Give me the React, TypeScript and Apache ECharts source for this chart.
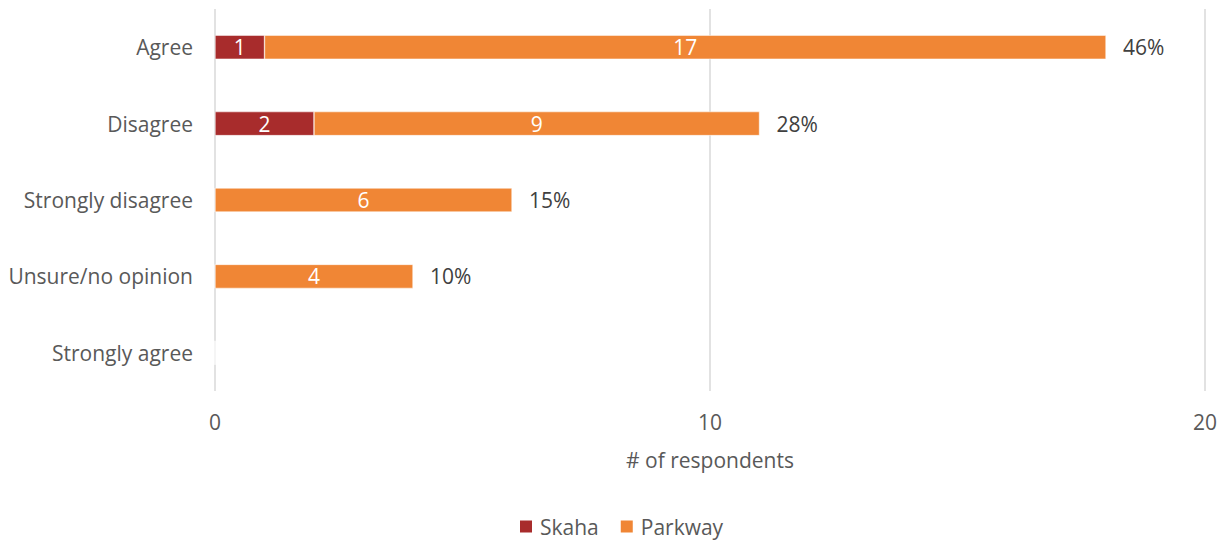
import React, { useEffect, useRef } from "react";
import * as echarts from "echarts";

const categories = ["Agree", "Disagree", "Strongly disagree", "Unsure/no opinion", "Strongly agree"];
const skaha = [1, 2, 0, 0, 0];
const parkway = [17, 9, 6, 4, 0];
const percentLabels = ["46%", "28%", "15%", "10%", ""];
const xTicks = [0, 10, 20];

export default function App() {
  const ref = useRef<HTMLDivElement>(null);
  useEffect(() => {
    document.body.style.margin = "0";
    if (!ref.current) return;
    const chart = echarts.init(ref.current, undefined, { renderer: "svg" });
    const font = "'Open Sans', sans-serif";
    const fs = 21;
    chart.setOption({
      animation: false,
      textStyle: { fontFamily: font },
      grid: { left: 215, right: 24, top: 9, bottom: 152 },
      legend: {
        data: ["Skaha", "Parkway"],
        bottom: 1,
        left: 513,
        itemWidth: 14,
        itemHeight: 14,
        itemGap: 20,
        icon: "rect",
        textStyle: { fontSize: fs, color: "#595959", fontFamily: font, padding: [0, 0, 0, 2] },
      },
      xAxis: {
        type: "value",
        min: xTicks[0],
        max: xTicks[xTicks.length - 1],
        interval: 10,
        name: "# of respondents",
        nameLocation: "middle",
        nameGap: 58,
        nameTextStyle: { fontSize: fs, color: "#595959", fontFamily: font },
        axisLabel: { fontSize: fs, color: "#595959", margin: 20, fontFamily: font },
        axisLine: { show: false },
        axisTick: { show: false },
        splitLine: { lineStyle: { color: "#d9d9d9", width: 1.5 } },
      },
      yAxis: {
        type: "category",
        data: categories,
        inverse: true,
        axisLine: { show: false },
        axisTick: { show: false },
        axisLabel: { fontSize: fs, color: "#595959", margin: 22, fontFamily: font },
      },
      series: [
        {
          name: "Skaha",
          type: "bar",
          stack: "total",
          data: skaha,
          barWidth: 24,
          itemStyle: { color: "#A82C2C", borderColor: "#fff", borderWidth: 0.5 },
          label: {
            show: true,
            position: "inside",
            color: "#fff",
            fontSize: fs,
            fontFamily: font,
            formatter: (p: any) => (p.value ? String(p.value) : ""),
          },
        },
        {
          name: "Parkway",
          type: "bar",
          stack: "total",
          data: parkway,
          barWidth: 24,
          itemStyle: { color: "#F08635", borderColor: "#fff", borderWidth: 0.5 },
          label: {
            show: true,
            position: "inside",
            color: "#fff",
            fontSize: fs,
            fontFamily: font,
            formatter: (p: any) => (p.value ? String(p.value) : ""),
          },
        },
        {
          name: "Percent",
          type: "bar",
          stack: "total",
          data: categories.map(() => 0),
          barWidth: 24,
          itemStyle: { color: "transparent" },
          label: {
            show: true,
            position: "right",
            distance: 17,
            color: "#404040",
            fontSize: fs,
            fontFamily: font,
            formatter: (p: any) => percentLabels[p.dataIndex],
          },
        },
      ],
    });
    return () => chart.dispose();
  }, []);
  return <div ref={ref} style={{ width: 1229, height: 543 }} />;
}
